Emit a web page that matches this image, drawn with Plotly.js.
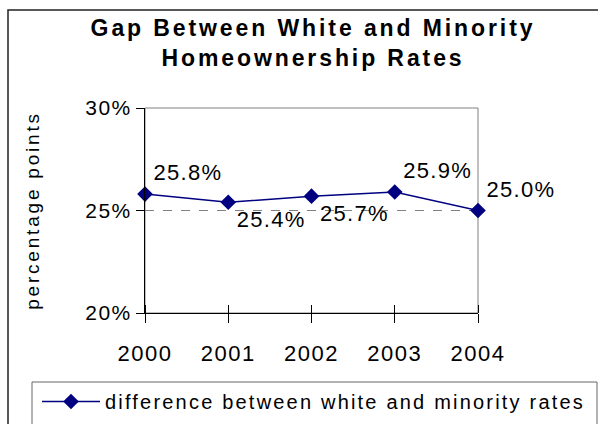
<!DOCTYPE html>
<html>
<head>
<meta charset="utf-8">
<script src="https://cdn.plot.ly/plotly-3.0.1.min.js"></script>
<style>
html,body{margin:0;padding:0;background:#fff;}
#chart{width:598px;height:424px;}
.ytick text{letter-spacing:1.5px;}
.xtick text{letter-spacing:1.5px;}
.textpoint text{letter-spacing:1.3px;}
.legendtext{letter-spacing:2.2px;}
.gtitle{letter-spacing:2.9px;}
.ytitle{letter-spacing:2.8px;}
</style>
</head>
<body>
<div id="chart"></div>
<script>
const years = [2000, 2001, 2002, 2003, 2004];
const gap = [0.258, 0.254, 0.257, 0.259, 0.250];
const gapLabels = ['25.8%', '25.4%', '25.7%', '25.9%', '25.0%'];
const labelPositions = ['top right', 'bottom right', 'bottom right', 'top right', 'top right'];
const seriesName = 'difference between white and minority rates';
const chartTitle = 'Gap Between White and Minority<br>Homeownership Rates';
const yTitle = 'percentage points';

const W = 598, H = 424;
const px = v => v / W, py = v => 1 - v / H;
const font = 'Arial, "Liberation Sans", sans-serif';

const trace = {
  x: years, y: gap, name: seriesName,
  type: 'scatter', mode: 'lines+markers+text',
  text: gapLabels, textposition: labelPositions,
  textfont: {family: font, size: 22, color: '#000'},
  line: {color: '#000080', width: 1.5},
  marker: {symbol: 'diamond', size: 12, color: '#000080'},
  cliponaxis: false, hoverinfo: 'skip'
};
// transparent trace that carries the upper half of the crossing x ticks
const tickCarrier = {
  x: years, y: gap, xaxis: 'x2', yaxis: 'y', type: 'scatter', mode: 'markers',
  marker: {size: 1, opacity: 0, color: '#000080'},
  showlegend: false, hoverinfo: 'skip'
};

const layout = {
  width: W, height: H,
  margin: {l: 0, r: 0, t: 0, b: 0},
  paper_bgcolor: '#fff', plot_bgcolor: '#fff',
  font: {family: font, color: '#000'},
  showlegend: true,
  title: {text: chartTitle, font: {family: font, size: 23, color: '#000', weight: 'bold'},
          x: px(313), xanchor: 'center', xref: 'paper', y: py(36), yanchor: 'top', yref: 'container'},
  xaxis: {domain: [px(145), px(478)], range: [2000, 2004], dtick: 1, tick0: 2000,
          tickformat: 'd', tickfont: {family: font, size: 22, color: '#000', weight: 'normal'},
          ticks: 'outside', ticklen: 9, tickcolor: '#000', tickwidth: 1, ticklabelstandoff: 12,
          showline: true, linecolor: '#000', linewidth: 1, showgrid: false, zeroline: false,
          anchor: 'y'},
  xaxis2: {domain: [px(145), px(478)], range: [2000, 2004], dtick: 1, tick0: 2000,
           overlaying: 'x', anchor: 'free', position: py(313), side: 'top',
           showticklabels: false, ticks: 'outside', ticklen: 8, tickcolor: '#000', tickwidth: 1,
           showline: false, showgrid: false, zeroline: false},
  yaxis: {domain: [py(313), py(108)], range: [0.20, 0.30], dtick: 0.05, tick0: 0.20,
          tickformat: '.0%', ticks: 'outside', ticklen: 8, tickcolor: '#000',
          tickfont: {family: font, size: 21, color: '#000', weight: 'normal'},
          showline: true, linecolor: '#000', linewidth: 1,
          showgrid: true, gridcolor: '#808080', griddash: 'dash', gridwidth: 1,
          zeroline: false, anchor: 'x',
          title: {text: yTitle, font: {family: font, size: 19, color: '#000'}, standoff: 40}},
  legend: {orientation: 'h', x: px(37), xanchor: 'left', y: py(382), yanchor: 'top',
           font: {family: font, size: 20, color: '#000'}, bgcolor: 'rgba(0,0,0,0)',
           borderwidth: 0, itemwidth: 58},
  shapes: [
    {type: 'rect', xref: 'paper', yref: 'paper', x0: px(8), x1: px(640), y0: py(10), y1: py(460),
     line: {color: '#222', width: 1.5}, fillcolor: 'rgba(0,0,0,0)', layer: 'below'},
    {type: 'rect', xref: 'paper', yref: 'paper', x0: px(145), x1: px(478), y0: py(313), y1: py(108),
     line: {color: '#808080', width: 1}, fillcolor: 'rgba(0,0,0,0)', layer: 'below'},
    {type: 'rect', xref: 'paper', yref: 'paper', x0: px(32), x1: px(597), y0: py(382), y1: py(460),
     line: {color: '#666', width: 1}, fillcolor: 'rgba(0,0,0,0)', layer: 'below'}
  ]
};

Plotly.newPlot('chart', [trace, tickCarrier], layout, {staticPlot: true, displayModeBar: false});
</script>
</body>
</html>
